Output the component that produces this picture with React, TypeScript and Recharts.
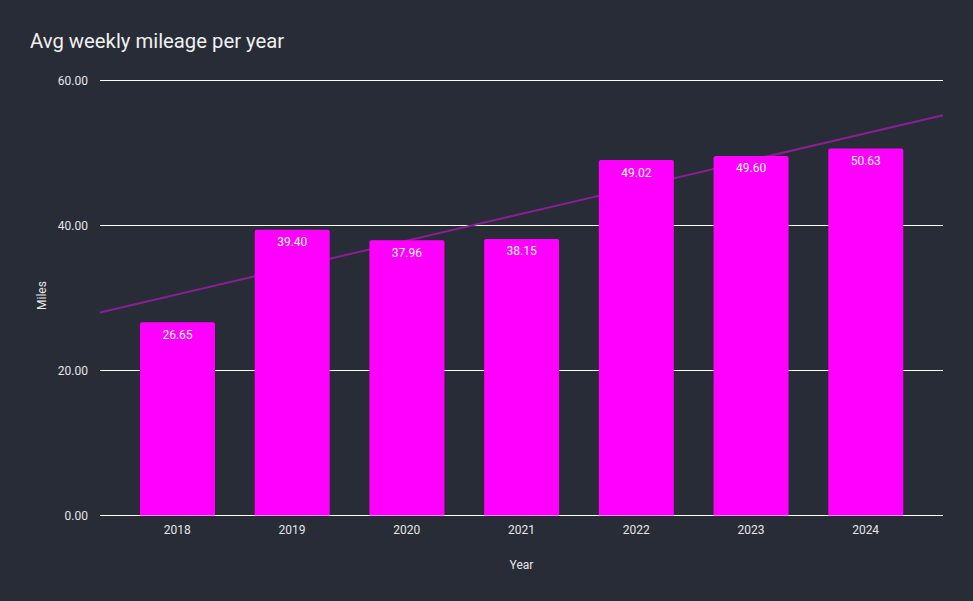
import React from 'react'
import {
  ComposedChart, Bar, Line, XAxis, YAxis, CartesianGrid, LabelList,
} from 'recharts'

const years = ['2018', '2019', '2020', '2021', '2022', '2023', '2024']
const mileage = [26.65, 39.4, 37.96, 38.15, 49.02, 49.6, 50.63]
const yTicks = [0, 20, 40, 60]
// trendline endpoints (left edge, right edge of plot)
const trendPos = [0, 1]
const trendVals = [28.0, 55.2]

const BG = '#282c37'
const TEXT = '#e6e6e6'
const BAR = '#ff00ff'
const TREND = '#8a1f95'
const FONT = 'Roboto, "Noto Sans", sans-serif'

const barData = years.map((year, i) => ({ year, miles: mileage[i] }))
const trendData = trendPos.map((t, i) => ({ t, trend: trendVals[i] }))

export default function App() {
  return (
    <div style={{ position: 'absolute', left: 0, top: 0, width: 973, height: 601, background: BG, fontFamily: FONT }}>
      <div style={{ position: 'absolute', left: 30, top: 29, fontSize: 20.3, color: '#f0f0f0' }}>
        Avg weekly mileage per year
      </div>
      <ComposedChart
        width={973}
        height={601}
        data={barData}
        margin={{ top: 80.5, right: 30, bottom: 55.5, left: 40 }}
      >
        <CartesianGrid vertical={false} stroke="#ffffff" strokeWidth={1} />
        <XAxis
          xAxisId="cat"
          dataKey="year"
          padding={{ left: 20, right: 20 }}
          tick={{ fontSize: 12, fill: TEXT, fontFamily: FONT }}
          tickLine={false}
          axisLine={false}
          tickMargin={4}
          height={30}
          label={{ value: 'Year', position: 'bottom', offset: 15, fill: TEXT, fontSize: 12, fontFamily: FONT }}
        />
        <XAxis xAxisId="trend" type="number" dataKey="t" domain={[0, 1]} hide />
        <YAxis
          domain={[0, 60]}
          ticks={yTicks}
          tickFormatter={(v: number) => v.toFixed(2)}
          tick={{ fontSize: 12, fill: TEXT, fontFamily: FONT }}
          tickLine={false}
          axisLine={false}
          tickMargin={6}
          width={60}
          label={{ value: 'Miles', angle: -90, position: 'insideLeft', offset: 2, dy: 12, fill: TEXT, fontSize: 12, fontFamily: FONT }}
        />
        <Line
          xAxisId="trend"
          data={trendData}
          dataKey="trend"
          type="linear"
          stroke={TREND}
          strokeWidth={2}
          dot={false}
          activeDot={false}
          zIndex={100}
          isAnimationActive={false}
        />
        <Bar
          xAxisId="cat"
          dataKey="miles"
          fill={BAR}
          barSize={75}
          radius={[2, 2, 0, 0]}
          zIndex={300}
          isAnimationActive={false}
        >
          <LabelList
            dataKey="miles"
            position="insideTop"
            offset={8}
            formatter={(v: number) => v.toFixed(2)}
            style={{ fill: '#ffffff', fontSize: 12, fontFamily: FONT }}
          />
        </Bar>
      </ComposedChart>
    </div>
  )
}
